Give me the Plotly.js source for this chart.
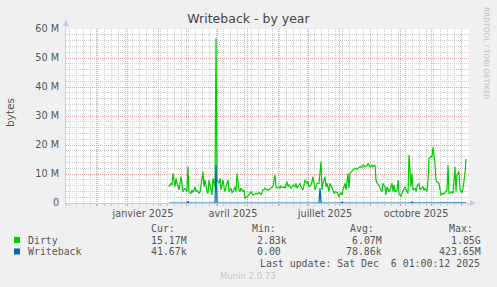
<!DOCTYPE html>
<html><head><meta charset="utf-8">
<script src="https://cdn.plot.ly/plotly-3.0.1.min.js"></script>
<style>html,body{margin:0;padding:0;background:#f0f0f0;}#chart{width:497px;height:287px;}</style>
</head><body><div id="chart"></div>
<script>
// Values in millions of bytes (M)
const dirtyDates = [
'2025-02-12','2025-02-14','2025-02-15','2025-02-16','2025-02-18','2025-02-19','2025-02-20','2025-02-22','2025-02-23','2025-02-24','2025-02-26','2025-02-27','2025-02-28',
'2025-03-02','2025-03-03','2025-03-04','2025-03-06','2025-03-07','2025-03-08','2025-03-10','2025-03-11','2025-03-12','2025-03-14','2025-03-15','2025-03-16','2025-03-18','2025-03-19','2025-03-20','2025-03-22','2025-03-23','2025-03-24','2025-03-26','2025-03-27','2025-03-28','2025-03-30','2025-03-31',
'2025-04-01','2025-04-03','2025-04-04','2025-04-05','2025-04-07','2025-04-08','2025-04-09','2025-04-11','2025-04-12','2025-04-13','2025-04-15','2025-04-16','2025-04-17','2025-04-19','2025-04-20','2025-04-21','2025-04-23','2025-04-24','2025-04-25','2025-04-27','2025-04-28','2025-04-29',
'2025-05-01','2025-05-02','2025-05-03','2025-05-05','2025-05-06','2025-05-07','2025-05-09','2025-05-10','2025-05-11','2025-05-13','2025-05-14','2025-05-15','2025-05-17','2025-05-18','2025-05-19','2025-05-21','2025-05-22','2025-05-23','2025-05-25','2025-05-26','2025-05-27','2025-05-29','2025-05-30','2025-05-31',
'2025-06-02','2025-06-03','2025-06-04','2025-06-06','2025-06-07','2025-06-08','2025-06-10','2025-06-11','2025-06-12','2025-06-14','2025-06-15','2025-06-16','2025-06-18','2025-06-19','2025-06-20','2025-06-22','2025-06-23','2025-06-24','2025-06-26','2025-06-27','2025-06-28','2025-06-30',
'2025-07-01','2025-07-02','2025-07-04','2025-07-05','2025-07-06','2025-07-08','2025-07-09','2025-07-10','2025-07-12','2025-07-13','2025-07-14','2025-07-15','2025-07-16','2025-07-18','2025-07-19','2025-07-20','2025-07-22','2025-07-23','2025-07-24','2025-07-26','2025-07-27','2025-07-28','2025-07-30','2025-07-31',
'2025-08-01','2025-08-03','2025-08-04','2025-08-05','2025-08-07','2025-08-08','2025-08-09','2025-08-10','2025-08-11','2025-08-12','2025-08-14','2025-08-15','2025-08-17','2025-08-19','2025-08-20','2025-08-22','2025-08-24','2025-08-25','2025-08-27','2025-08-29','2025-08-30',
'2025-09-01','2025-09-03','2025-09-04','2025-09-06','2025-09-07','2025-09-08','2025-09-10','2025-09-11','2025-09-13','2025-09-14','2025-09-16','2025-09-17','2025-09-18','2025-09-20','2025-09-21','2025-09-23','2025-09-24','2025-09-25','2025-09-26','2025-09-28','2025-09-29','2025-09-30',
'2025-10-02','2025-10-03','2025-10-04','2025-10-06','2025-10-08','2025-10-09','2025-10-10','2025-10-12','2025-10-13','2025-10-14','2025-10-16','2025-10-17','2025-10-18','2025-10-20','2025-10-21','2025-10-22','2025-10-24','2025-10-25','2025-10-26','2025-10-28','2025-10-29','2025-10-30',
'2025-11-01','2025-11-02','2025-11-03','2025-11-05','2025-11-06','2025-11-07','2025-11-09','2025-11-10','2025-11-11','2025-11-13','2025-11-14','2025-11-15','2025-11-17','2025-11-18','2025-11-19','2025-11-21','2025-11-22','2025-11-23','2025-11-25','2025-11-26','2025-11-27','2025-11-29','2025-11-30',
'2025-12-02','2025-12-03','2025-12-05','2025-12-06'
];
const dirtyValues = [
5.6,6.8,6.2,10.2,5.6,8.5,6.8,4.5,6.8,9.1,3.9,4.5,5.1,
3.9,12.5,3.9,3.3,4.5,3.6,5.6,3.9,4.5,3.3,3.9,6.8,10.8,5.6,7.9,3.9,3.3,7.9,4.5,2.8,8.5,5.6,56.8,
7.9,6.8,8.5,4.5,7.9,5.6,3.9,6.8,7.9,3.9,5.1,3.6,3.9,5.6,3.9,10.2,4.5,3.9,5.1,3.9,4.5,1.6,
2.2,2.2,2.8,3.9,3.3,2.8,3.1,3.3,3.1,3.6,3.3,2.8,4.5,4.5,5.1,4.5,4.7,4.5,5.1,5.6,5.6,9.7,5.6,5.1,
5.6,5.1,5.8,5.3,5.6,5.1,7.4,5.6,6.2,5.1,5.6,6.2,5.6,6.8,5.1,6.2,6.8,5.6,4.5,6.2,7.9,6.8,
7.4,5.6,6.2,7.4,9.1,4.5,5.6,6.8,6.8,9.7,14.3,4.5,6.8,9.1,5.6,6.8,3.9,6.8,6.2,4.5,3.3,3.9,3.6,2.8,
2.2,3.6,2.8,4.5,6.8,4.5,7.3,10.2,5.1,10.2,11.0,11.4,12.0,11.6,12.0,12.5,12.3,13.1,12.5,12.8,13.7,
12.5,13.1,12.5,13.1,7.9,6.8,6.2,5.1,3.9,6.8,5.6,2.8,5.6,3.9,4.5,6.8,3.9,6.2,3.9,4.3,7.9,3.3,
2.2,3.3,3.9,5.6,3.9,3.3,16.6,5.6,10.2,4.5,5.1,3.9,5.6,6.8,4.5,5.1,5.6,4.3,5.1,3.9,7.9,15.4,
16.0,16.0,19.2,13.7,7.9,7.3,6.8,4.5,2.8,3.3,3.1,3.6,4.5,13.1,3.3,3.6,3.9,3.3,12.5,3.9,9.7,10.8,4.5,
3.6,5.1,10.2,15.17
];
const wbDates = ['2025-02-12','2025-03-02','2025-03-03','2025-03-04','2025-03-30','2025-03-31','2025-04-01','2025-07-12','2025-07-13','2025-07-14','2025-08-03','2025-08-04','2025-08-05','2025-10-12','2025-10-13','2025-10-14','2025-12-06'];
const wbValues = [0,0,0.6,0,0,13.1,0,0,5.2,0,0,0.3,0,0,0.3,0,0.04];

const yTickVals = [0,10,20,30,40,50,60];
const yTickText = ['0','10 M','20 M','30 M','40 M','50 M','60 M'];
const xLabelDates = ['2025-01-17','2025-04-17','2025-07-18','2025-10-17'];
const xLabelText = ['janvier 2025','avril 2025','juillet 2025','octobre 2025'];

const seriesNames = ['Dirty','Writeback'];
const seriesColors = ['#00cc00','#0066b3'];
const statHeaders = ['Cur:','Min:','Avg:','Max:'];
const statCur = ['15.17M','41.67k'];
const statMin = ['2.83k','0.00'];
const statAvg = ['6.07M','78.86k'];
const statMax = ['1.85G','423.65M'];

const L=66, T=29, W=403, H=174;
const px = x => (x-L)/W;
const py = y => (T+H-y)/H;
const xRange = ['2024-11-01','2025-12-09'];

const traces = [
 {x: dirtyDates, y: dirtyValues, type:'scatter', mode:'lines', line:{color:seriesColors[0], width:1.2}, xaxis:'x', yaxis:'y', hoverinfo:'skip'},
 {x: wbDates, y: wbValues, type:'scatter', mode:'lines', line:{color:seriesColors[1], width:1.2}, xaxis:'x', yaxis:'y', hoverinfo:'skip'}
];

const mono = 'DejaVu Sans Mono, monospace';
const sans = 'DejaVu Sans, sans-serif';
const txt = '#555555';
const ann = [];
function A(text,x,y,o){ ann.push(Object.assign({text:text, xref:'paper', yref:'paper', x:px(x), y:py(y), showarrow:false, xanchor:'left', yanchor:'middle', font:{family:mono,size:9.9,color:txt}}, o||{})); }
A('bytes',10,113,{xanchor:'center',textangle:-90,font:{family:sans,size:10.5,color:txt}});
A('RRDTOOL / TOBI OETIKER',487,53,{xanchor:'center',textangle:90,font:{family:sans,size:7.2,color:'#c0c0c0'}});
// legend
A(statHeaders[0],149,228); A(statHeaders[1],250,228); A(statHeaders[2],348,228); A(statHeaders[3],447,228);
const rowsY=[240,251.5];
for(let i=0;i<2;i++){
  A(seriesNames[i],26,rowsY[i]);
  A(statCur[i],149,rowsY[i]);
  A(statMin[i],255,rowsY[i]);
  A(statAvg[i],384,rowsY[i],{xanchor:'right'});
  A(statMax[i],483,rowsY[i],{xanchor:'right'});
}
A('Last update: Sat Dec\u00a0\u00a06 01:00:12 2025',482,263.5,{xanchor:'right'});
A('Munin 2.0.73',248,276,{xanchor:'center',font:{family:sans,size:8.5,color:'#c8c8c8'}});
// axis arrows
ann.push({x:0,y:py(20),xref:'paper',yref:'paper',ax:0,ay:10,showarrow:true,arrowhead:2,arrowsize:1.2,arrowwidth:1,arrowcolor:'#c8c8f0',text:''});
ann.push({x:px(476),y:0,xref:'paper',yref:'paper',ax:-8,ay:0,showarrow:true,arrowhead:2,arrowsize:1.2,arrowwidth:1,arrowcolor:'#c8c8f0',text:''});

const shapes = [];
for(let i=0;i<2;i++){
  shapes.push({type:'rect',xref:'paper',yref:'paper',x0:px(14),x1:px(20),y0:py(rowsY[i]+3),y1:py(rowsY[i]-3),fillcolor:seriesColors[i],line:{width:0}});
}

const majorGrid = '#e8a4a4', minorGrid = '#cfcfcf', gdash = '1px,1px';
const layout = {
 width:497, height:287,
 margin:{l:L, r:497-L-W, t:T, b:287-T-H, pad:0},
 paper_bgcolor:'#f0f0f0', plot_bgcolor:'#ffffff',
 showlegend:false,
 title:{text:'Writeback - by year', x:0.5, xanchor:'center', y:1-19/287, yanchor:'middle', font:{family:sans,size:12.5,color:'#444444'}},
 xaxis:{type:'date', range:xRange, tick0:'2024-11-01', dtick:'M1', showticklabels:false,
   showgrid:true, gridcolor:majorGrid, griddash:gdash, gridwidth:1,
   ticks:'outside', ticklen:2, tickcolor:'#e89090',
   showline:true, linecolor:'#c8c8f0', linewidth:1, zeroline:false, layer:'below traces',
   minor:{tick0:'2024-11-04', dtick:7*86400000, showgrid:true, gridcolor:minorGrid, griddash:gdash, gridwidth:1, ticks:'outside', ticklen:2, tickcolor:'#cccccc'},
   fixedrange:true},
 xaxis2:{type:'date', overlaying:'x', matches:'x', anchor:'y', side:'bottom', range:xRange, tickmode:'array', tickvals:xLabelDates, ticktext:xLabelText,
   showgrid:false, zeroline:false, showline:false, ticks:'', ticklabelstandoff:3, tickfont:{family:sans,size:9.7,color:txt}},
 yaxis:{range:[0,60], tickmode:'array', tickvals:yTickVals, ticktext:yTickText, tickfont:{family:sans,size:9.7,color:txt},
   showgrid:true, gridcolor:majorGrid, griddash:gdash, gridwidth:1, zeroline:false,
   showline:true, linecolor:'#c8c8f0', linewidth:1, layer:'below traces', ticks:'', ticklabelstandoff:4,
   minor:{dtick:2, showgrid:true, gridcolor:minorGrid, griddash:gdash, gridwidth:1},
   fixedrange:true},
 annotations: ann,
 shapes: shapes
};
traces.push({x:[xRange[0]], y:[null], xaxis:'x2', yaxis:'y', type:'scatter', mode:'lines', hoverinfo:'skip'});
Plotly.newPlot('chart', traces, layout, {staticPlot:true, displayModeBar:false});
</script></body></html>
